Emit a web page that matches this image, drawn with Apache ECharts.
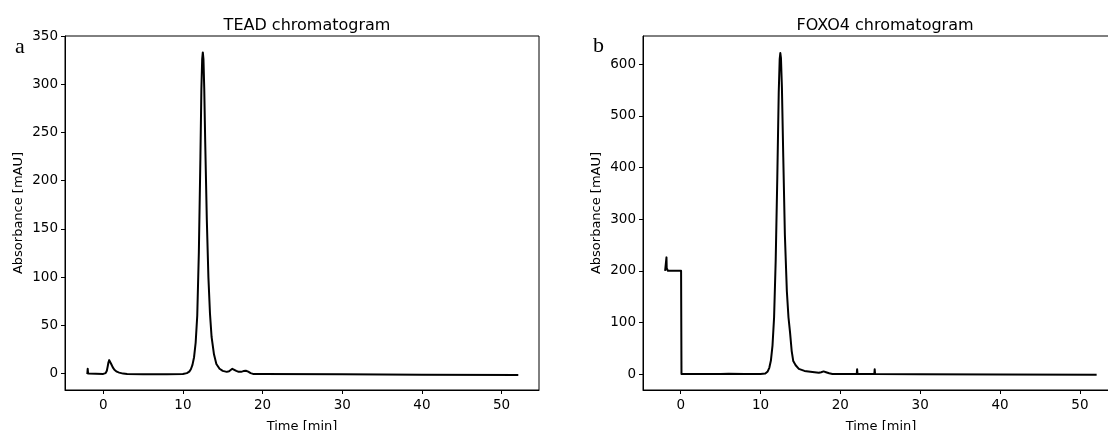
<!DOCTYPE html>
<html lang="en">
<head>
    <meta charset="UTF-8">
    <title>Chromatograms</title>
    <style>
        body{
            margin: 0;
            background-color: #fff;
        }
        #chart{
            width: 1108px;
            height: 430px;
        }
    </style>
    <script src="https://cdn.jsdelivr.net/npm/echarts@6/dist/echarts.min.js"></script>
</head>
<body>
<div id="chart"></div>
<script type="text/javascript">
    // TEAD trace (time in min, absorbance in mAU)
    var teadTime = [-2.0, -1.95, -1.9, -1.8, 0, 0.3, 0.45, 0.55, 0.65, 0.75, 0.85, 1.0, 1.2, 1.4, 1.7, 2.0, 2.5, 3, 5, 8, 10,
        10.5, 10.8, 11.0, 11.2, 11.4, 11.6, 11.8, 12.0, 12.2, 12.32, 12.42, 12.5, 12.58, 12.68, 12.8, 13.0, 13.2, 13.4, 13.6, 13.9,
        14.2, 14.6, 15.0, 15.5, 15.8, 16.0, 16.2, 16.4, 16.7, 17.0, 17.3, 17.6, 17.9, 18.2, 18.5, 18.8, 20, 30, 40, 52.1];
    var teadAbs = [-0.5, 5, 0, -0.5, -0.3, 0.5, 3, 7, 11.5, 14, 13, 10, 6.5, 4, 2, 1, 0, -0.5, -0.7, -0.7, -0.5,
        0.5, 2, 4.5, 9, 17, 32, 60, 125, 225, 295, 326, 333, 326, 295, 240, 160, 100, 62, 38, 20,
        10, 5, 2.8, 1.8, 2.5, 4, 5, 4.2, 2.8, 1.8, 1.8, 2.6, 3, 2, 0.5, -0.3, -0.5, -0.8, -1.2, -1.5];

    // FOXO4 trace
    var foxoTime = [-1.95, -1.85, -1.8, -1.78, -1.75, -1.6, 0.05, 0.1, 5, 6, 8, 10, 10.6, 10.9, 11.1, 11.3, 11.5,
        11.7, 11.9, 12.1, 12.28, 12.4, 12.48, 12.56, 12.68, 12.85, 13.05, 13.3, 13.5, 13.7, 13.9, 14.1, 14.4, 14.8,
        15.5, 16.5, 17.3, 17.6, 17.9, 18.2, 18.6, 19, 22.05, 22.1, 22.15, 24.25, 24.3, 24.35, 30, 40, 52.1];
    var foxoAbs = [200, 203, 200, 226, 205, 200, 200, 0, 0, 0.5, 0, 0, 1, 5, 12, 26, 55,
        110, 220, 380, 545, 610, 622, 612, 555, 420, 270, 160, 110, 80, 45, 25, 17, 10,
        6, 4, 2.5, 3.5, 5, 3.5, 1.5, 0, 0, 9, 0, 0, 9, 0, -0.5, -1, -1.5];

    var xTicks = [0, 10, 20, 30, 40, 50];
    var teadTicks = [0, 50, 100, 150, 200, 250, 300, 350];
    var foxoTicks = [0, 100, 200, 300, 400, 500, 600];

    function pairs(xs, ys){
        var out = [];
        for(var i=0;i<xs.length;i++){
            out.push([xs[i], ys[i]]);
        }
        return out;
    }

    var font = 'DejaVu Sans';

    function xAxis(idx, min, max){
        return {
            type: 'value', gridIndex: idx, min: min, max: max,
            name: 'Time [min]', nameLocation: 'middle', nameGap: 30,
            nameTextStyle: {color: '#000', fontSize: 13, fontFamily: font},
            splitLine: {show: false},
            axisLine: {show: true, onZero: false, lineStyle: {color: '#000', width: 1}},
            axisTick: {show: true, length: 4, customValues: xTicks, lineStyle: {color: '#000'}},
            axisLabel: {customValues: xTicks, color: '#000', fontSize: 13.5, fontFamily: font, margin: 8}
        };
    }

    function yAxis(idx, min, max, ticks){
        return {
            type: 'value', gridIndex: idx, min: min, max: max,
            name: 'Absorbance [mAU]', nameLocation: 'middle', nameGap: 40, nameRotate: 90,
            nameTextStyle: {color: '#000', fontSize: 13, fontFamily: font},
            splitLine: {show: false},
            axisLine: {show: true, onZero: false, lineStyle: {color: '#000', width: 1}},
            axisTick: {show: true, length: 4, customValues: ticks, lineStyle: {color: '#000'}},
            axisLabel: {customValues: ticks, color: '#000', fontSize: 13.5, fontFamily: font, margin: 7}
        };
    }

    var option = {
        animation: false,
        title: [
            {text: 'TEAD chromatogram', left: 302, top: 13, textAlign: 'center',
                textStyle: {color: '#000', fontSize: 16, fontWeight: 'normal', fontFamily: font}},
            {text: 'FOXO4 chromatogram', left: 880, top: 13, textAlign: 'center',
                textStyle: {color: '#000', fontSize: 16, fontWeight: 'normal', fontFamily: font}},
            {text: 'a', left: 10, top: 31,
                textStyle: {color: '#000', fontSize: 22, fontWeight: 'normal', fontFamily: 'Liberation Serif'}},
            {text: 'b', left: 588, top: 30,
                textStyle: {color: '#000', fontSize: 22, fontWeight: 'normal', fontFamily: 'Liberation Serif'}}
        ],
        grid: [
            {left: 65, top: 36, width: 474, height: 354, outerBoundsMode: 'none',
                show: true, borderColor: '#000', borderWidth: 1},
            {left: 643, top: 36, width: 476, height: 354, outerBoundsMode: 'none',
                show: true, borderColor: '#000', borderWidth: 1}
        ],
        xAxis: [xAxis(0, -4.8, 54.7), xAxis(1, -4.72, 54.9)],
        yAxis: [yAxis(0, -17, 350, teadTicks), yAxis(1, -31, 655, foxoTicks)],
        series: [
            {
                name: 'TEAD', type: 'line', xAxisIndex: 0, yAxisIndex: 0,
                data: pairs(teadTime, teadAbs), showSymbol: false, smooth: false,
                lineStyle: {color: '#000', width: 2, join: 'round'}
            },
            {
                name: 'FOXO4', type: 'line', xAxisIndex: 1, yAxisIndex: 1,
                data: pairs(foxoTime, foxoAbs), showSymbol: false, smooth: false,
                lineStyle: {color: '#000', width: 2, join: 'round'}
            }
        ]
    };

    var chart = echarts.init(document.getElementById('chart'));
    chart.setOption(option);
</script>
</body>
</html>
